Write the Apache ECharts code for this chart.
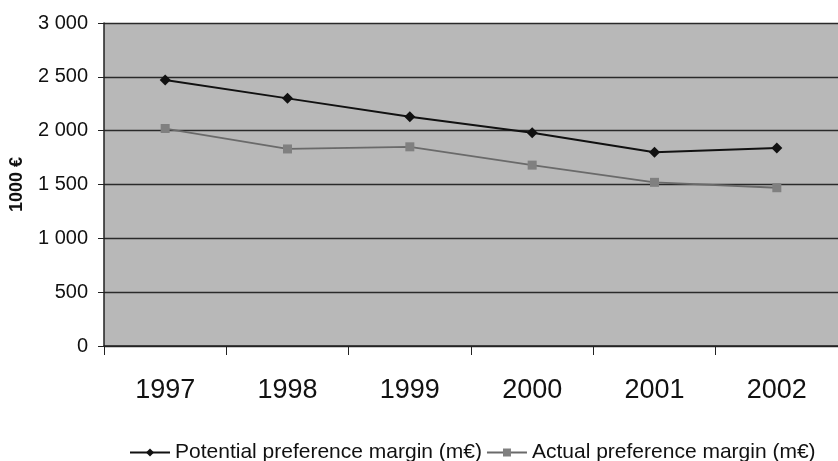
<!DOCTYPE html>
<html><head><meta charset="utf-8">
<script src="https://cdn.jsdelivr.net/npm/echarts@6/dist/echarts.min.js"></script>
<style>html,body{margin:0;padding:0;background:#fff}#c{width:838px;height:461px}</style>
</head><body><div id="c"></div>
<script>
const categories = ['1997','1998','1999','2000','2001','2002'];
const potential = [2470, 2300, 2130, 1980, 1800, 1840];
const actual = [2020, 1830, 1850, 1680, 1520, 1470];
const seriesNames = ['Potential preference margin (m€)', 'Actual preference margin (m€)'];
const yTicks = [0, 500, 1000, 1500, 2000, 2500, 3000];

const chart = echarts.init(document.getElementById('c'));
const font = 'Liberation Sans, Arial, sans-serif';
chart.setOption({
  animation: false,
  grid: { left: 104, top: 23, width: 748, height: 323, backgroundColor: '#b8b8b8', show: true, borderWidth: 0 },
  xAxis: {
    type: 'category', data: categories, boundaryGap: true,
    axisLine: { lineStyle: { color: '#222', width: 1.5 } },
    axisTick: { show: true, length: 9, lineStyle: { color: '#222' } },
    axisLabel: { color: '#111', fontSize: 27, fontFamily: font, margin: 31 }
  },
  yAxis: {
    type: 'value', min: 0, max: 3000, interval: 500,
    name: '1000 €', nameLocation: 'middle', nameGap: 78, nameRotate: 90,
    nameTextStyle: { fontSize: 18, fontWeight: 'bold', color: '#111', fontFamily: font },
    axisLine: { show: true, lineStyle: { color: '#222', width: 1.5 } },
    axisTick: { show: true, length: 6, lineStyle: { color: '#222' } },
    splitLine: { lineStyle: { color: '#2a2a2a', width: 1.3 } },
    axisLabel: { color: '#111', fontSize: 20, fontFamily: font, margin: 16,
      formatter: v => String(v).replace(/\B(?=(\d{3})+(?!\d))/g, ' ') }
  },
  legend: {
    top: 437, left: 124, itemGap: 4, itemWidth: 40, itemHeight: 10,
    textStyle: { fontSize: 21, color: '#111', fontFamily: font },
    data: seriesNames
  },
  series: [
    { name: seriesNames[0], type: 'line', data: potential, symbol: 'diamond', symbolSize: 11,
      lineStyle: { color: '#111', width: 2 }, itemStyle: { color: '#111' } },
    { name: seriesNames[1], type: 'line', data: actual, symbol: 'rect', symbolSize: 9,
      lineStyle: { color: '#6a6a6a', width: 1.8 }, itemStyle: { color: '#808080' } }
  ]
});
</script></body></html>
